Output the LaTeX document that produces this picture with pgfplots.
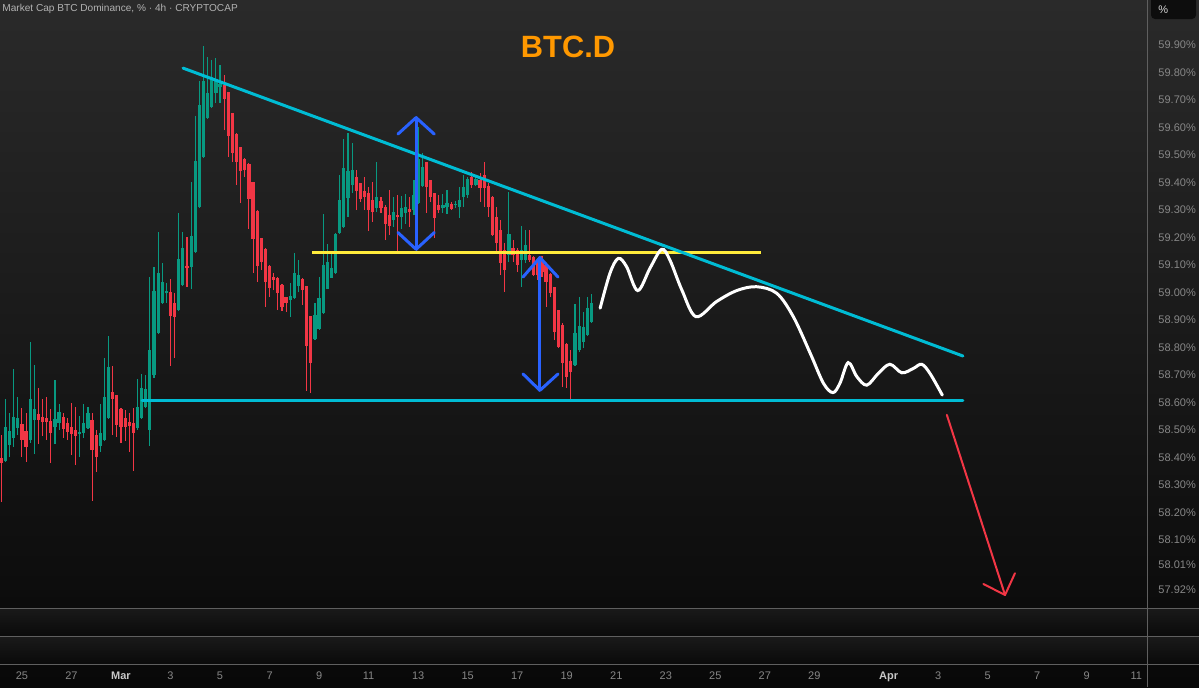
\documentclass[border=0pt]{standalone}
\usepackage{fontspec}
\setmainfont{Liberation Sans}
\usepackage{pgfplots}
\pgfplotsset{compat=1.18}
\usepackage{pgfplotstable}
\definecolor{bgtop}{RGB}{42,42,42}
\definecolor{bgmid}{RGB}{22,22,22}
\definecolor{bgbot}{RGB}{8,8,8}
\definecolor{panetop}{RGB}{26,26,26}
\definecolor{panebot}{RGB}{10,10,10}
\definecolor{boxbg}{RGB}{13,13,13}
\definecolor{boxtx}{RGB}{215,215,215}
\definecolor{cgreen}{RGB}{8,153,129}
\definecolor{cred}{RGB}{242,54,69}
\definecolor{tvcyan}{RGB}{0,188,212}
\definecolor{tvyellow}{RGB}{255,235,59}
\definecolor{tvblue}{RGB}{41,98,255}
\definecolor{tvorange}{RGB}{255,152,0}
\definecolor{lbl}{RGB}{135,135,135}
\definecolor{lblb}{RGB}{200,200,200}
\definecolor{sep}{RGB}{95,95,95}
\definecolor{ttl}{RGB}{178,178,178}

% 4h candles, k = candle index (k=29 is 1 Mar 00:00), o h l c in %
\pgfplotstableread{
k o h l c
1 58.387 58.613 58.384 58.511
2 58.445 58.562 58.405 58.496
3 58.471 58.725 58.438 58.547
4 58.507 58.620 58.482 58.544
7 58.464 58.820 58.455 58.613
8 58.536 58.736 58.413 58.576
13 58.511 58.682 58.449 58.540
14 58.525 58.595 58.500 58.565
19 58.485 58.551 58.402 58.493
20 58.489 58.595 58.471 58.525
21 58.507 58.584 58.505 58.562
24 58.442 58.595 58.420 58.489
25 58.464 58.762 58.460 58.620
26 58.544 58.845 58.540 58.729
33 58.507 58.685 58.500 58.584
34 58.544 58.704 58.540 58.653
35 58.584 58.700 58.580 58.649
36 58.500 59.056 58.442 58.791
37 58.700 59.093 58.690 59.005
38 58.853 59.220 58.850 59.071
39 58.962 59.107 58.958 59.038
40 58.998 59.035 58.962 59.005
43 58.936 59.289 58.933 59.122
44 59.027 59.220 59.024 59.162
46 59.093 59.402 59.013 59.205
47 59.147 59.642 59.145 59.478
48 59.311 59.769 59.308 59.682
49 59.493 59.896 59.490 59.769
50 59.635 59.856 59.632 59.725
51 59.675 59.845 59.672 59.784
52 59.725 59.853 59.689 59.776
53 59.747 59.827 59.689 59.758
70 58.973 59.035 58.911 58.987
71 58.980 59.147 58.977 59.071
72 59.024 59.118 59.002 59.064
76 58.831 58.962 58.827 58.918
77 58.867 59.056 58.865 58.980
78 58.925 59.285 58.922 59.100
79 59.016 59.176 59.013 59.111
80 59.056 59.147 59.053 59.089
81 59.071 59.216 59.068 59.213
82 59.216 59.427 59.213 59.336
83 59.238 59.558 59.235 59.453
84 59.344 59.580 59.275 59.445
85 59.391 59.544 59.362 59.445
91 59.307 59.475 59.293 59.347
95 59.264 59.347 59.238 59.293
97 59.275 59.351 59.231 59.307
98 59.289 59.358 59.249 59.311
100 59.300 59.409 59.282 59.355
101 59.325 59.602 59.322 59.485
102 59.387 59.507 59.384 59.456
107 59.307 59.358 59.289 59.318
108 59.311 59.373 59.285 59.325
110 59.318 59.336 59.307 59.325
111 59.311 59.384 59.271 59.336
112 59.347 59.427 59.311 59.384
113 59.355 59.420 59.344 59.416
115 59.391 59.420 59.387 59.413
123 59.136 59.365 59.111 59.213
126 59.118 59.242 59.020 59.155
127 59.118 59.227 59.107 59.173
139 58.736 58.958 58.733 58.853
140 58.791 58.984 58.784 58.878
141 58.820 58.929 58.798 58.875
142 58.845 58.984 58.842 58.944
143 58.893 58.995 58.890 58.962
}\greentab

\pgfplotstableread{
k o h l c
0 58.398 58.485 58.238 58.380
5 58.525 58.580 58.402 58.464
6 58.496 58.562 58.384 58.438
9 58.558 58.656 58.449 58.536
10 58.547 58.613 58.478 58.529
11 58.544 58.620 58.464 58.529
12 58.536 58.576 58.380 58.489
15 58.547 58.562 58.471 58.504
16 58.525 58.544 58.464 58.493
17 58.511 58.598 58.409 58.485
18 58.500 58.584 58.373 58.478
22 58.536 58.562 58.242 58.427
23 58.482 58.500 58.347 58.402
27 58.638 58.733 58.482 58.613
28 58.627 58.627 58.475 58.518
29 58.576 58.580 58.453 58.511
30 58.544 58.573 58.460 58.511
31 58.529 58.562 58.420 58.515
32 58.525 58.580 58.351 58.489
41 59.002 59.049 58.736 58.915
42 58.962 58.998 58.765 58.911
45 59.096 59.205 59.020 59.093
54 59.755 59.791 59.591 59.704
55 59.729 59.729 59.493 59.569
56 59.653 59.653 59.475 59.507
57 59.576 59.580 59.391 59.475
58 59.529 59.529 59.325 59.442
59 59.485 59.489 59.420 59.445
60 59.467 59.471 59.231 59.340
61 59.402 59.402 59.071 59.195
62 59.296 59.300 59.038 59.096
63 59.198 59.198 59.082 59.111
64 59.158 59.162 58.947 59.038
65 59.096 59.100 58.984 59.016
66 59.056 59.071 59.009 59.045
67 59.053 59.056 58.936 58.998
68 59.027 59.031 58.933 58.947
69 58.984 58.984 58.929 58.962
73 59.049 59.053 58.955 59.009
74 59.024 59.024 58.645 58.805
75 58.915 58.915 58.635 58.744
86 59.420 59.445 59.300 59.369
87 59.398 59.398 59.329 59.340
88 59.369 59.420 59.300 59.347
89 59.362 59.384 59.224 59.300
90 59.336 59.402 59.256 59.293
92 59.336 59.347 59.289 59.307
93 59.311 59.318 59.191 59.249
94 59.282 59.373 59.209 59.245
96 59.282 59.355 59.147 59.275
99 59.304 59.347 59.238 59.293
103 59.475 59.475 59.289 59.384
104 59.409 59.409 59.329 59.347
105 59.362 59.362 59.198 59.271
106 59.318 59.355 59.289 59.300
109 59.322 59.329 59.300 59.304
114 59.420 59.438 59.380 59.391
116 59.409 59.435 59.329 59.380
117 59.427 59.475 59.311 59.380
118 59.387 59.398 59.275 59.311
119 59.347 59.350 59.205 59.209
120 59.275 59.311 59.147 59.180
121 59.227 59.264 59.064 59.107
122 59.155 59.180 59.002 59.082
124 59.162 59.191 59.111 59.136
125 59.155 59.162 59.075 59.100
128 59.136 59.227 59.111 59.118
129 59.129 59.132 59.060 59.064
130 59.111 59.125 59.045 59.064
131 59.118 59.133 59.056 59.075
132 59.100 59.103 58.947 59.038
133 59.067 59.071 58.984 58.998
134 59.020 59.022 58.827 58.856
135 58.936 58.938 58.798 58.802
136 58.882 58.889 58.656 58.744
137 58.813 58.816 58.653 58.693
138 58.751 58.791 58.616 58.711
}\redtab

\pgfplotsset{
  wick/.style={only marks, mark=*, mark size=0pt, mark options={opacity=0}, forget plot,
    error bars/.cd, y dir=both, y explicit, error mark=none,
    error bar style={line width=0.55pt, draw=#1}},
  body/.style={only marks, mark=*, mark size=0pt, mark options={opacity=0}, forget plot,
    error bars/.cd, y dir=both, y explicit, error mark=none,
    error bar style={line width=1.6pt, line cap=butt, draw=#1}},
}

\begin{document}
\begin{tikzpicture}
\begin{scope}[x=0.5pt,y=-0.5pt]
  \shade[top color=bgtop, middle color=bgmid, bottom color=bgbot] (0,0) rectangle (1199,687);
  \shade[top color=panetop, bottom color=panebot] (0,608) rectangle (1199,636);
  \shade[top color=panetop, bottom color=panebot] (0,636) rectangle (1199,664);
\end{scope}

\begin{axis}[
  at={(0,0)}, anchor=north west,
  scale only axis, width=573.5pt, height=332pt,
  xmin=-0.315, xmax=277.6, ymin=57.649, ymax=60.0636,
  axis line style={draw=none}, major tick length=0pt, tick style={draw=none},
  xtick={5,17,29,41,53,65,77,89,101,113,125,137,149,161,173,185,197,215,227,239,251,263,275},
  xticklabels={25,27,\textcolor{lblb}{\textbf{Mar}},3,5,7,9,11,13,15,17,19,21,23,25,27,29,\textcolor{lblb}{\textbf{Apr}},3,5,7,9,11},
  xticklabel style={font=\fontsize{5.5}{6}\selectfont, text=lbl, anchor=base, yshift=-7.5pt},
  ytick={59.9,59.8,59.7,59.6,59.5,59.4,59.3,59.2,59.1,59.0,58.9,58.8,58.7,58.6,58.5,58.4,58.3,58.2,58.1,58.01,57.92},
  yticklabels={59.90\%,59.80\%,59.70\%,59.60\%,59.50\%,59.40\%,59.30\%,59.20\%,59.10\%,59.00\%,58.90\%,58.80\%,58.70\%,58.60\%,58.50\%,58.40\%,58.30\%,58.20\%,58.10\%,58.01\%,57.92\%},
  yticklabel pos=right,
  yticklabel style={font=\fontsize{5.5}{6}\selectfont, text=lbl, anchor=west, xshift=2.2pt},
  /pgf/number format/assume math mode=true,
]
% wicks
\addplot[wick={cgreen}] table[x=k, y expr={(\thisrow{h}+\thisrow{l})/2}, y error expr={(\thisrow{h}-\thisrow{l})/2}] {\greentab};
\addplot[wick={cred}] table[x=k, y expr={(\thisrow{h}+\thisrow{l})/2}, y error expr={(\thisrow{h}-\thisrow{l})/2}] {\redtab};
% bodies
\addplot[body={cgreen}] table[x=k, y expr={(\thisrow{o}+\thisrow{c})/2}, y error expr={max(abs(\thisrow{o}-\thisrow{c})/2,0.0018)}] {\greentab};
\addplot[body={cred}] table[x=k, y expr={(\thisrow{o}+\thisrow{c})/2}, y error expr={max(abs(\thisrow{o}-\thisrow{c})/2,0.0018)}] {\redtab};

% pattern lines
\addplot[tvyellow, line width=1.5pt] coordinates {(75.3,59.144) (184.1,59.144)};
\addplot[tvcyan, line width=1.5pt, line cap=round] coordinates {(44.03,59.816) (233.0,58.769)};
\addplot[tvcyan, line width=1.5pt, line cap=round] coordinates {(34.1,58.6055) (233.0,58.6055)};
% blue range arrows
\addplot[tvblue, line width=1.5pt, line cap=round, line join=round] coordinates {(100.5,59.636) (100.5,59.157)};
\addplot[tvblue, line width=1.5pt, line cap=round, line join=round] coordinates {(96.1,59.576) (100.5,59.636) (104.9,59.576)};
\addplot[tvblue, line width=1.5pt, line cap=round, line join=round] coordinates {(96.1,59.218) (100.5,59.157) (104.9,59.218)};
\addplot[tvblue, line width=1.5pt, line cap=round, line join=round] coordinates {(130.5,59.127) (130.5,58.644)};
\addplot[tvblue, line width=1.5pt, line cap=round, line join=round] coordinates {(126.4,59.056) (130.5,59.127) (134.9,59.056)};
\addplot[tvblue, line width=1.5pt, line cap=round, line join=round] coordinates {(126.4,58.704) (130.5,58.644) (134.9,58.704)};
% projected path
\addplot[white, line width=1.5pt, smooth, tension=0.55, line cap=round] coordinates {
(145.1,58.943) (147.5,59.071) (149.5,59.124) (151.5,59.094) (154.2,59.007)
(157.2,59.089) (160.0,59.157) (162.0,59.118) (164.9,59.009) (168.3,58.912)
(173.3,58.967) (178.2,59.007) (183.0,59.021) (187.9,58.997) (191.9,58.912)
(196.0,58.779) (199.2,58.670) (201.5,58.636) (203.2,58.670) (205.2,58.745)
(207.3,58.694) (209.7,58.663) (212.5,58.706) (215.3,58.739) (218.2,58.708)
(221.0,58.724) (223.0,58.739) (225.0,58.706) (228.0,58.627)};
% red breakdown arrow
\addplot[cred, line width=1pt, line cap=round] coordinates {(229.1,58.555) (243.2,57.900)};
\addplot[cred, line width=1pt, line cap=round, line join=round] coordinates {(237.96,57.940) (243.2,57.900) (245.6,57.979)};
\end{axis}

\begin{scope}[x=0.5pt,y=-0.5pt]
  \draw[sep, line width=0.5pt] (0,608) -- (1199,608);
  \draw[sep, line width=0.5pt] (0,636) -- (1199,636);
  \draw[sep, line width=0.5pt] (0,664) -- (1199,664);
  \draw[sep, line width=0.75pt] (1147.5,0) -- (1147.5,687);
  \fill[fill=boxbg, rounded corners=2pt] (1151,-4) rectangle (1196,19);
  \node[anchor=base west, inner sep=0, font=\fontsize{5.5}{6}\selectfont, text=boxtx] at (1158,13) {\%};
  \node[anchor=base west, inner sep=0, font=\fontsize{5.05}{6}\selectfont, text=ttl] at (2,11.5) {Market Cap BTC Dominance, \% · 4h · CRYPTOCAP};
  \node[anchor=base, inner sep=0, font=\bfseries\fontsize{15.4}{16}\selectfont, text=tvorange] at (568,57) {BTC.D};
  \pgfresetboundingbox
  \path[use as bounding box] (0,0) rectangle (1199,687);
\end{scope}
\end{tikzpicture}
\end{document}
